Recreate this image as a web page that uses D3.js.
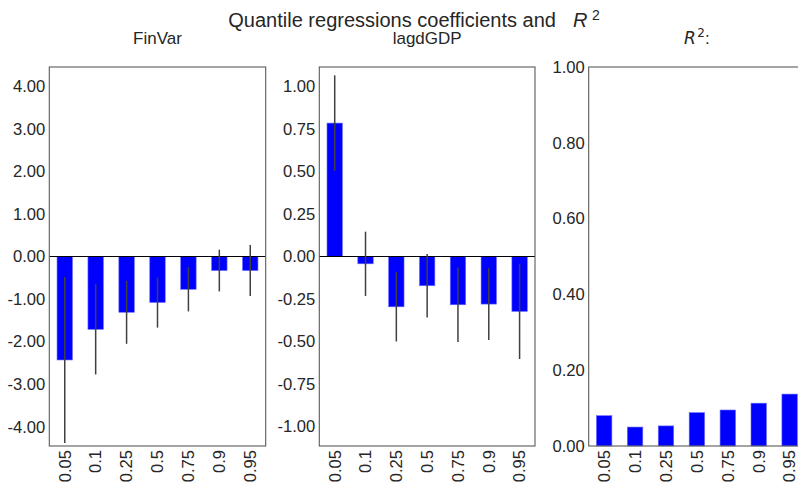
<!DOCTYPE html>
<html>
<head>
<meta charset="utf-8">
<script src="https://cdn.jsdelivr.net/npm/d3@7"></script>
<style>
  html, body { margin: 0; padding: 0; background: #fff; }
  text { font-family: "Liberation Sans", Arial, sans-serif; fill: #262626; }
</style>
</head>
<body>
<svg id="chart" width="798" height="487"></svg>
<script>
// ---- data ----
const quantiles = ["0.05", "0.1", "0.25", "0.5", "0.75", "0.9", "0.95"];
const finVarCoef = [-2.43, -1.71, -1.31, -1.08, -0.77, -0.33, -0.33];
const finVarErr  = [1.95, 1.06, 0.74, 0.59, 0.52, 0.49, 0.60];
const lagGdpCoef = [0.785, -0.043, -0.296, -0.172, -0.284, -0.28, -0.323];
const lagGdpErr  = [0.281, 0.189, 0.204, 0.187, 0.219, 0.212, 0.28];
const r2Values   = [0.080, 0.050, 0.053, 0.088, 0.095, 0.113, 0.137];
const finVarTicks = [-4, -3, -2, -1, 0, 1, 2, 3, 4];
const lagGdpTicks = [-1, -0.75, -0.5, -0.25, 0, 0.25, 0.5, 0.75, 1];
const r2Ticks     = [0, 0.2, 0.4, 0.6, 0.8, 1];

const svg = d3.select("#chart");
svg.append("rect").attr("width", 798).attr("height", 487).attr("fill", "#fff");

const plotTop = 67, plotBottom = 446;
const panels = [
  { x0: 49.3, x1: 265.7, title: "FinVar", values: finVarCoef, errs: finVarErr, domain: [-4.45, 4.45], ticks: finVarTicks, zero: true },
  { x0: 319.3, x1: 535, title: "lagdGDP", values: lagGdpCoef, errs: lagGdpErr, domain: [-1.115, 1.115], ticks: lagGdpTicks, zero: true },
  { x0: 588.7, x1: 805.1, title: "R2", values: r2Values, errs: null, domain: [0, 1], ticks: r2Ticks, zero: false }
];

const fs = 16.6;
const FONT = '"Liberation Sans", Arial, sans-serif';
const MATH = '"DejaVu Sans", sans-serif';
const fmt = d => d.toFixed(2);

panels.forEach(p => {
  const x = d3.scaleBand().domain(quantiles).range([p.x0, p.x1]).paddingInner(0.5).paddingOuter(0.25);
  const y = d3.scaleLinear().domain(p.domain).range([plotBottom, plotTop]);
  const g = svg.append("g");

  g.selectAll("rect.bar").data(p.values).join("rect")
    .attr("class", "bar")
    .attr("x", (d, i) => x(quantiles[i]))
    .attr("width", x.bandwidth())
    .attr("y", d => y(Math.max(0, d)))
    .attr("height", d => Math.abs(y(d) - y(0)))
    .attr("fill", "#0000ff")
    .attr("stroke", "#6a6aff")
    .attr("stroke-width", 0.6);

  if (p.zero) {
    g.append("line")
      .attr("x1", p.x0).attr("x2", p.x1)
      .attr("y1", y(0)).attr("y2", y(0))
      .attr("stroke", "#000").attr("stroke-width", 1);
  }

  if (p.errs) {
    g.selectAll("line.err").data(p.values).join("line")
      .attr("class", "err")
      .attr("x1", (d, i) => x(quantiles[i]) + x.bandwidth() / 2)
      .attr("x2", (d, i) => x(quantiles[i]) + x.bandwidth() / 2)
      .attr("y1", (d, i) => y(d - p.errs[i]))
      .attr("y2", (d, i) => y(d + p.errs[i]))
      .attr("stroke", "#404040").attr("stroke-width", 1.5);
  }

  g.append("rect")
    .attr("x", p.x0).attr("y", plotTop)
    .attr("width", p.x1 - p.x0).attr("height", plotBottom - plotTop)
    .attr("fill", "none").attr("stroke", "#5a5a5a").attr("stroke-width", 1.1);

  const yAxis = d3.axisLeft(y).tickValues(p.ticks).tickFormat(fmt).tickSize(0).tickPadding(4);
  const ya = g.append("g").attr("transform", `translate(${p.x0},0)`).call(yAxis)
    .attr("font-size", fs).attr("font-family", FONT);
  ya.select(".domain").remove();
  ya.selectAll("text").attr("fill", "#262626");

  const xAxis = d3.axisBottom(x).tickSize(0).tickPadding(0);
  const xa = g.append("g").attr("transform", `translate(0,${plotBottom})`).call(xAxis)
    .attr("font-size", fs).attr("font-family", FONT);
  xa.select(".domain").remove();
  xa.selectAll("text")
    .attr("fill", "#262626")
    .attr("text-anchor", "end")
    .attr("transform", "rotate(-90)")
    .attr("x", -4).attr("y", 0).attr("dy", "0.35em");

  const cx = (p.x0 + p.x1) / 2;
  const t = svg.append("text").attr("x", cx).attr("y", 44).attr("text-anchor", "middle").attr("font-size", 17);
  if (p.title === "R2") {
    t.append("tspan").attr("font-family", MATH).attr("font-style", "italic").text("R");
    t.append("tspan").attr("dy", -7).attr("dx", 1.5).attr("font-size", 12).attr("font-family", MATH).text("2");
    t.append("tspan").attr("dy", 7).text(":");
  } else {
    t.text(p.title);
  }
});

// main title
const titleY = 27.3;
svg.append("text").attr("x", 228.3).attr("y", titleY).attr("font-size", 20)
  .text("Quantile regressions coefficients and");
svg.append("text").attr("x", 573).attr("y", titleY).attr("font-size", 20)
  .attr("font-family", MATH).attr("font-style", "italic").text("R");
svg.append("text").attr("x", 592).attr("y", titleY - 7.3).attr("font-size", 14)
  .attr("font-family", MATH).text("2");
</script>
</body>
</html>
